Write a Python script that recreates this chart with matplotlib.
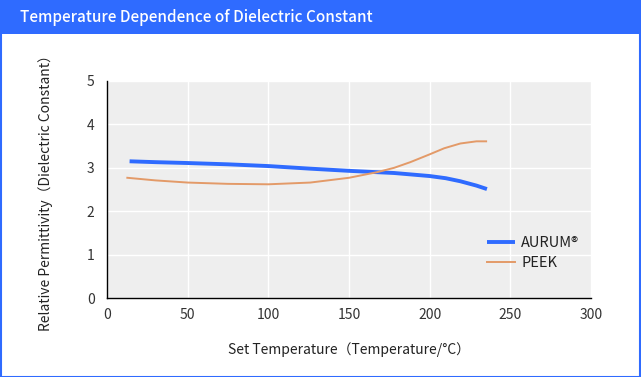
import matplotlib
matplotlib.use("Agg")
import matplotlib.pyplot as plt
from matplotlib.patches import Rectangle

plt.rcParams['font.family'] = ['Noto Sans CJK JP', 'DejaVu Sans']

title = "Temperature Dependence of Dielectric Constant"
x_label = "Set Temperature（Temperature/°C）"
y_label = "Relative Permittivity（Dielectric Constant）"

aurum_x = [14, 30, 50, 75, 100, 126, 150, 178, 200, 210, 219, 229, 235.5]
aurum_y = [3.15, 3.13, 3.11, 3.08, 3.04, 2.98, 2.93, 2.88, 2.81, 2.76, 2.69, 2.59, 2.51]

peek_x = [12.6, 30, 50, 75, 100, 126, 150, 167.5, 178, 188, 200, 209, 219, 229, 235]
peek_y = [2.77, 2.71, 2.66, 2.63, 2.62, 2.66, 2.77, 2.90, 3.00, 3.13, 3.31, 3.45, 3.56, 3.61, 3.61]

x_ticks = [0, 50, 100, 150, 200, 250, 300]
y_ticks = [0, 1, 2, 3, 4, 5]

fig = plt.figure(figsize=(6.41, 3.77), dpi=100)
fig.patch.set_facecolor('white')

blue = '#2f6bff'
# header bar
fig.patches.append(Rectangle((0, 1 - 34/377), 1, 34/377, transform=fig.transFigure,
                             facecolor=blue, edgecolor='none', zorder=0))
# border
fig.patches.append(Rectangle((0.5/641, 0.5/377), 1 - 1.5/641, 1 - 1.5/377, transform=fig.transFigure,
                             facecolor='none', edgecolor=blue, linewidth=1.5, zorder=1))
fig.text(20/641, 1 - 18/377, title, color='white', fontsize=11, fontweight='medium',
         va='center', ha='left')

ax = fig.add_axes([107/641, 79/377, 484/641, 217/377])
ax.set_facecolor('#eeeeee')
ax.plot(aurum_x, aurum_y, color=blue, linewidth=2.8, label='AURUM®', solid_capstyle='butt',
        solid_joinstyle='round')
ax.plot(peek_x, peek_y, color='#e39a68', linewidth=1.4, label='PEEK', solid_joinstyle='round')

ax.set_xlim(0, 300)
ax.set_ylim(0, 5)
ax.set_xticks(x_ticks)
ax.set_yticks(y_ticks)
ax.grid(True, color='white', linewidth=1)
ax.set_axisbelow(True)
for s in ['top', 'right']:
    ax.spines[s].set_visible(False)
for s in ['left', 'bottom']:
    ax.spines[s].set_color('black')
    ax.spines[s].set_linewidth(1)
ax.tick_params(length=0, labelsize=10, colors='#333333', pad=7)
ax.tick_params(axis='y', pad=9)

ax.set_xlabel(x_label, fontsize=10, color='#222222', labelpad=15)
ax.set_ylabel(y_label, fontsize=10, color='#222222')
ax.yaxis.set_label_coords(-0.112, 0.5)

leg = ax.legend(loc='lower left', bbox_to_anchor=(0.758, 0.068), frameon=False,
                fontsize=10.5, handlelength=1.9, labelspacing=0.42, handletextpad=0.45)
for t in leg.get_texts():
    t.set_color('#222222')

fig.savefig('out.png', dpi=100, facecolor='white')
